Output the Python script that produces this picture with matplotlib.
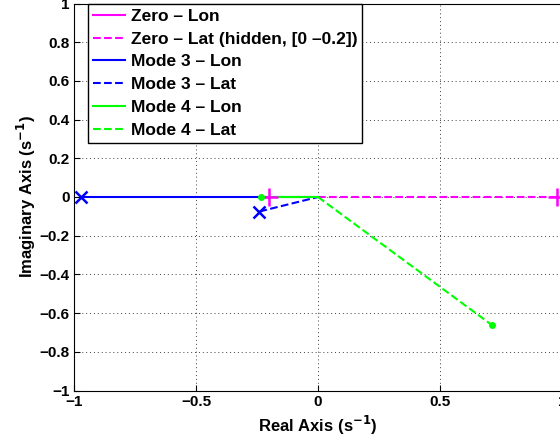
import matplotlib
matplotlib.use('Agg')
import matplotlib.pyplot as plt

plt.rcParams['font.family'] = ['Liberation Sans', 'DejaVu Sans']
plt.rcParams['font.weight'] = 'bold'
plt.rcParams['mathtext.default'] = 'bf'

# root-locus branches (real, imag)
zero_lon_x = [-0.2, -0.2]
zero_lon_y = [0.0, 0.0]
zero_lat_x = [0.0, 0.98]
zero_lat_y = [0.0, 0.0]
mode3_lon_x = [-0.97, 0.0]
mode3_lon_y = [0.0, 0.0]
mode3_lat_x = [-0.24, 0.0]
mode3_lat_y = [-0.075, 0.0]
mode4_lon_x = [-0.235, 0.0]
mode4_lon_y = [0.0, 0.0]
mode4_lat_x = [0.0, 0.713]
mode4_lat_y = [0.0, -0.662]

fig = plt.figure(figsize=(5.6, 4.42), dpi=100)
ax = fig.add_axes([74/560, 1 - 390.5/442, 488/560, 387/442])

ax.plot(zero_lon_x, zero_lon_y, '-', color='magenta', lw=1.5, label='Zero \u2013 Lon')
ax.plot(zero_lat_x, zero_lat_y, '--', color='magenta', lw=1.5, label='Zero \u2013 Lat (hidden, [0 \u20130.2])')
ax.plot(mode3_lon_x, mode3_lon_y, '-', color='#0000ff', lw=1.5, label='Mode 3 \u2013 Lon')
ax.plot(mode3_lat_x, mode3_lat_y, '--', color='#0000ff', lw=1.5, label='Mode 3 \u2013 Lat')
ax.plot(mode4_lon_x, mode4_lon_y, '-', color='#00ff00', lw=1.5, label='Mode 4 \u2013 Lon')
ax.plot(mode4_lat_x, mode4_lat_y, '--', color='#00ff00', lw=1.5, label='Mode 4 \u2013 Lat')

# end markers
ax.plot(zero_lon_x[0], zero_lon_y[0], '+', color='magenta', ms=13, mew=1.8)
ax.plot(zero_lat_x[1], zero_lat_y[1], '+', color='magenta', ms=13, mew=1.8)
ax.plot(mode3_lon_x[0], mode3_lon_y[0], 'x', color='#0000ff', ms=8, mew=1.8)
ax.plot(mode3_lat_x[0], mode3_lat_y[0], 'x', color='#0000ff', ms=8, mew=1.8)
ax.plot(mode4_lon_x[0], mode4_lon_y[0], 'o', color='#00ff00', ms=4)
ax.plot(mode4_lat_x[1], mode4_lat_y[1], 'o', color='#00ff00', ms=4)

ax.set_xlim(-1, 1)
ax.set_ylim(-1, 1)
ax.set_xticks([-1, -0.5, 0, 0.5, 1])
ax.set_xticklabels(['\u22121', '\u22120.5', '0', '0.5', '1'])
yt = [-1, -0.8, -0.6, -0.4, -0.2, 0, 0.2, 0.4, 0.6, 0.8, 1]
ax.set_yticks(yt)
ax.set_yticklabels([('\u2212' if v < 0 else '') + ('%g' % abs(v)) for v in yt])
ax.tick_params(direction='in', labelsize=11, length=4, pad=3)
ax.grid(True, linestyle=(0, (1, 3)), color='#404040', lw=0.7)
ax.set_xlabel('Real Axis (s$^{-1}$)', fontsize=12, fontweight='bold', labelpad=4)
ax.set_ylabel('Imaginary Axis (s$^{-1}$)', fontsize=12, fontweight='bold', labelpad=1)

leg = ax.legend(loc='upper left', fontsize=12.5, handlelength=1.85, borderaxespad=0.0,
                fancybox=False, edgecolor='black', framealpha=1, labelspacing=0.44,
                borderpad=0.3, handletextpad=0.3)
leg.get_frame().set_linewidth(1.0)
leg.set_bbox_to_anchor((14/488, 1.0), transform=ax.transAxes)

fig.savefig('out.png', dpi=100)
